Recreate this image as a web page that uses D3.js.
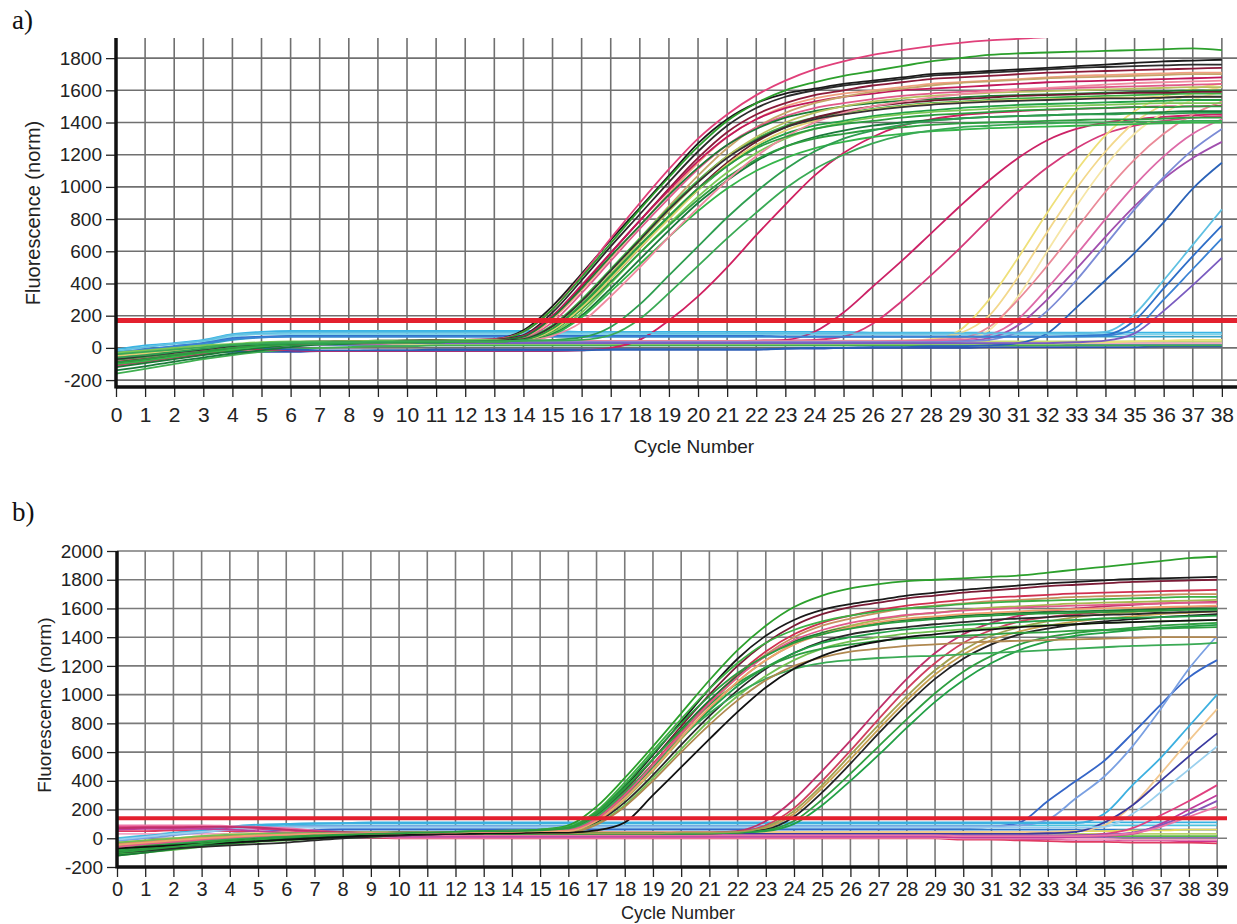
<!DOCTYPE html>
<html>
<head>
<meta charset="utf-8">
<script src="https://cdnjs.cloudflare.com/ajax/libs/d3/7.8.5/d3.min.js"></script>
<style>
  body { margin: 0; background: #fff; }
  svg { display: block; }
  text { font-family: "Liberation Sans", Arial, sans-serif; fill: #222; }
</style>
</head>
<body>
<svg id="chart" width="1237" height="924"></svg>
<script>
/* =========================
   Data: panel a
========================= */
const cyclesA = [0,1,2,3,4,5,6,7,8,9,10,11,12,13,14,15,16,17,18,19,20,21,22,23,24,25,26,27,28,29,30,31,32,33,34,35,36,37,38];
const yTicksA = [-200,0,200,400,600,800,1000,1200,1400,1600,1800];
const thresholdA = 170;

// early cluster (Ct ~14-17)
const aMainColors = ["#1b1b1b","#e0407a","#2ca02c","#2b2b2b","#8b1a3a","#f0a080","#c2185b","#c8a46a",
  "#e05a8a","#1a7a35","#3cb043","#b8c060","#6d1a30","#22a046","#7cc856","#197a3a",
  "#2e9e40","#35b54a","#e0d070","#f08aa0","#333333","#2a9d3f","#2e9e50","#3aaa55"];
const aMainValues = [
  [-60,-40,-20,0,20,30,35,40,40,45,45,50,50,55, 110,260,460,670,870,1070,1270,1420,1520,1580,1610,1640,1660,1680,1700,1710,1720,1730,1740,1750,1760,1770,1780,1785,1790],
  [-110,-90,-60,-30,0,20,30,35,40,40,45,45,50,55, 100,240,450,680,900,1110,1300,1450,1570,1660,1730,1780,1820,1850,1875,1895,1910,1920,1930,1935,1940,1945,1950,1950,1955],
  [-80,-60,-40,-20,0,20,30,35,40,40,45,45,50,50, 100,240,440,650,860,1060,1250,1410,1520,1600,1650,1690,1720,1750,1780,1800,1820,1830,1835,1840,1845,1850,1855,1860,1850],
  [-70,-50,-30,-10,10,25,30,35,40,40,45,45,50,50, 80,220,420,630,830,1030,1220,1380,1490,1560,1600,1630,1650,1670,1690,1700,1710,1720,1730,1740,1745,1750,1755,1760,1760],
  [-90,-70,-45,-20,5,20,30,35,35,40,40,45,45,50, 70,190,380,590,790,990,1180,1340,1450,1520,1570,1600,1630,1650,1670,1680,1690,1700,1710,1715,1720,1725,1730,1735,1740],
  [-50,-35,-20,0,15,25,30,30,35,35,40,40,45,45, 65,180,360,560,760,960,1150,1310,1420,1500,1550,1580,1600,1620,1640,1650,1660,1670,1680,1690,1695,1700,1705,1710,1710],
  [-100,-80,-55,-30,-5,15,25,30,35,35,40,40,45,45, 75,200,390,590,790,980,1160,1310,1420,1490,1530,1560,1580,1600,1610,1620,1630,1640,1650,1655,1660,1665,1670,1675,1680],
  [-60,-45,-25,-5,10,20,25,30,30,35,35,40,40,45, 55,130,290,480,680,880,1070,1240,1370,1460,1520,1560,1590,1610,1630,1645,1655,1665,1675,1680,1685,1690,1695,1700,1700],
  [-80,-60,-40,-20,0,15,25,30,30,35,35,40,40,45, 60,160,340,540,740,930,1110,1260,1370,1440,1490,1520,1545,1565,1580,1590,1600,1605,1610,1615,1620,1625,1630,1635,1640],
  [-120,-95,-70,-45,-20,0,15,25,30,35,35,40,40,45, 70,190,370,570,760,950,1120,1260,1360,1430,1470,1500,1520,1535,1545,1555,1565,1570,1575,1580,1585,1590,1595,1600,1600],
  [-70,-50,-30,-10,10,20,25,30,30,35,35,40,40,40, 55,140,300,490,680,870,1040,1190,1300,1380,1430,1460,1485,1505,1520,1530,1540,1550,1555,1560,1565,1570,1575,1580,1580],
  [-40,-25,-10,5,20,30,35,35,40,40,40,45,45,45, 55,120,270,460,660,850,1030,1190,1310,1400,1460,1500,1530,1550,1565,1575,1585,1590,1595,1600,1605,1610,1615,1620,1620],
  [-90,-70,-50,-25,0,15,25,30,35,35,40,40,45,45, 50,110,250,430,620,810,990,1150,1280,1370,1430,1470,1500,1520,1535,1545,1555,1565,1570,1575,1580,1585,1585,1590,1590],
  [-60,-45,-25,-5,15,25,30,30,35,35,40,40,40,45, 50,115,260,440,630,810,980,1130,1250,1330,1380,1410,1440,1460,1475,1490,1500,1510,1515,1520,1525,1530,1535,1540,1540],
  [-30,-15,0,15,25,35,40,40,40,45,45,45,50,50, 50,95,220,400,590,770,940,1090,1210,1300,1360,1400,1430,1450,1465,1475,1485,1495,1500,1505,1510,1515,1520,1520,1520],
  [-140,-115,-85,-60,-35,-15,5,20,25,30,35,35,40,40, 45,85,200,370,550,730,900,1040,1160,1250,1310,1350,1380,1400,1415,1425,1435,1440,1445,1450,1455,1460,1465,1470,1470],
  [-75,-55,-35,-15,5,20,25,30,30,35,35,40,40,40, 50,105,240,410,590,760,920,1060,1170,1250,1300,1330,1355,1370,1385,1395,1400,1405,1410,1415,1420,1420,1425,1430,1430],
  [-100,-80,-55,-30,-10,10,20,25,30,30,35,35,40,40, 45,80,190,350,520,690,850,990,1100,1180,1240,1280,1310,1330,1345,1355,1365,1370,1375,1380,1385,1390,1395,1400,1400],
  [-50,-35,-20,0,15,25,30,30,35,35,40,40,40,45, 50,110,250,430,620,800,980,1140,1260,1350,1410,1450,1480,1500,1515,1525,1535,1540,1545,1550,1555,1555,1560,1560,1560],
  [-60,-45,-30,-10,10,20,25,30,30,35,35,40,40,40, 45,75,160,320,500,690,870,1040,1190,1310,1400,1460,1500,1530,1555,1575,1590,1605,1615,1625,1635,1645,1650,1655,1660],
  [-70,-50,-30,-10,10,20,25,30,35,35,40,40,40,45, 55,135,290,480,670,860,1030,1180,1290,1370,1420,1450,1475,1495,1510,1520,1530,1535,1540,1545,1550,1550,1555,1560,1560],
  [-90,-70,-45,-25,0,15,25,30,30,35,35,35,40,40, 50,120,270,450,640,820,990,1130,1240,1310,1360,1390,1410,1430,1445,1455,1465,1475,1480,1485,1490,1495,1495,1500,1500],
  [-60,-45,-25,-5,15,25,30,30,35,35,40,40,40,40, 45,50,65,130,270,450,630,810,970,1110,1220,1300,1350,1385,1410,1425,1435,1440,1445,1450,1450,1455,1455,1460,1460],
  [-40,-25,-10,5,20,30,35,35,35,40,40,40,40,40, 45,45,50,80,180,340,510,680,840,990,1110,1200,1270,1320,1350,1370,1380,1390,1395,1400,1400,1405,1405,1410,1410]
];

// later curves (Ct ~19-35)
const aLateColors = ["#d02060","#cc2266","#d63a7a","#efe07a","#f3d88c","#f6e6a6","#ea8a98","#dd6aa8",
  "#a04fae","#7b8bd6","#2a62b8","#5fc0e2","#2e6ec8","#3a82d4","#7a5cc0"];
const aLateValues = [
  [-110,-90,-65,-40,-15,-10,-15,-20,-20,-20,-20,-20,-20,-20, -20,-20,-15,0,50,170,320,500,700,890,1070,1210,1310,1380,1420,1445,1460,1470,1480,1485,1490,1495,1500,1500,1505],
  [-90,-70,-50,-25,0,15,25,30,30,35,35,35,40,40, 40,40,40,40,40,40,40,40,45,50,100,220,380,540,710,880,1040,1180,1290,1360,1400,1420,1435,1445,1450],
  [-60,-45,-25,-5,15,25,30,30,35,35,35,40,40,40, 40,40,40,40,40,40,40,40,40,45,50,70,150,290,450,620,800,970,1120,1240,1330,1380,1410,1430,1440],
  [-50,-35,-20,0,15,25,30,30,35,35,35,40,40,40, 40,40,40,40,40,40,40,40,40,40,40,40,40,45,50,110,300,560,840,1100,1320,1470,1560,1610,1640],
  [-40,-25,-10,5,20,30,35,35,35,40,40,40,40,40, 40,40,40,40,40,40,40,40,40,40,40,45,45,45,55,90,200,440,720,990,1220,1400,1510,1580,1620],
  [-70,-50,-30,-10,10,20,25,30,30,30,35,35,35,35, 35,35,35,35,35,35,35,35,35,35,35,40,40,40,40,50,110,320,600,880,1130,1330,1460,1540,1590],
  [-80,-60,-40,-20,0,15,25,30,30,35,35,35,40,40, 40,40,40,40,40,40,40,40,40,40,40,40,40,45,50,60,130,300,510,740,970,1170,1330,1450,1530],
  [-60,-45,-25,-5,15,25,30,30,35,35,35,40,40,40, 40,40,40,40,40,40,40,40,40,40,40,40,40,40,45,50,80,180,370,580,800,1010,1190,1330,1420],
  [-100,-80,-55,-30,-5,10,20,25,25,25,30,30,30,30, 30,30,30,30,30,30,30,30,30,30,30,30,30,30,35,40,60,140,300,490,690,880,1050,1180,1280],
  [-50,-35,-20,0,15,25,30,30,30,30,35,35,35,35, 35,35,35,35,35,35,35,35,35,35,35,35,35,35,35,40,50,100,230,420,640,860,1060,1230,1360],
  [-40,-30,-15,0,10,0,-10,-15,-15,-15,-15,-15,-15,-15, -15,-15,-15,-10,-10,-10,-10,-10,-10,-5,0,0,5,5,10,10,15,30,90,250,420,590,780,990,1150],
  [-20,5,25,45,80,90,95,95,95,95,95,95,95,95, 95,95,95,95,95,90,90,90,90,90,90,90,90,90,90,90,90,90,90,90,100,210,420,640,860],
  [-30,-10,10,30,60,70,75,75,75,75,75,75,75,75, 75,75,75,75,75,75,75,75,75,70,70,70,70,70,70,70,70,70,70,75,80,170,370,570,760],
  [-30,-10,10,30,55,65,70,70,70,70,70,70,70,70, 70,70,70,70,70,70,70,70,70,70,70,70,70,70,70,70,70,70,70,70,75,120,300,490,680],
  [-60,-45,-25,-5,15,25,30,30,30,30,30,30,30,30, 30,30,30,30,30,30,30,30,30,30,30,30,30,30,30,30,30,30,30,35,45,90,230,390,560]
];

// curves that stay at baseline
const aFlatColors = ["#3ab4e4","#80d4ea","#35a0c8","#c8d870","#8fd070","#3050b0","#6a86c8","#f2a8c4","#e8e07a","#40b050"];
const aFlatValues = [
  [-10,15,30,50,85,100,105,105,105,105,105,105,105,105, 105,105,100,100,100,100,100,100,100,100,100,100,95,95,95,95,95,95,95,95,95,95,95,95,95],
  [-20,5,25,40,70,85,85,85,85,85,85,85,85,85, 85,85,85,85,85,85,85,85,85,85,85,85,85,85,85,85,85,85,85,85,85,85,85,85,85],
  [-40,-20,0,20,50,65,70,70,70,70,70,70,70,70, 70,70,70,70,70,70,70,70,70,70,70,70,70,70,70,70,70,70,70,70,70,70,70,70,70],
  [-50,-30,-15,0,15,25,30,35,35,35,35,35,35,35, 35,35,35,35,35,35,35,35,35,35,35,35,40,40,40,40,40,40,40,40,40,40,40,40,40],
  [-70,-50,-30,-10,5,15,20,20,25,25,25,25,25,25, 25,25,25,25,25,25,25,25,25,25,25,25,25,25,30,30,30,30,30,30,30,30,30,30,30],
  [-40,-35,-30,-25,-25,-25,-25,-20,-20,-15,-15,-10,-10,-10, -10,-10,-10,-10,-10,-10,-10,-10,-10,-5,-5,0,0,0,0,0,5,5,5,5,5,5,10,10,10],
  [-30,-20,-10,0,10,15,15,15,15,15,15,15,15,15, 15,15,15,15,15,15,15,15,15,15,15,15,15,15,15,15,15,15,15,20,20,20,20,20,20],
  [-90,-70,-50,-30,-10,5,15,20,25,25,30,30,30,30, 30,30,30,30,30,30,30,30,30,30,30,30,30,30,30,30,30,30,30,30,30,30,30,30,30],
  [-60,-40,-25,-10,5,15,20,25,25,25,25,25,25,25, 25,25,25,25,25,25,25,25,25,25,25,25,25,25,25,25,25,25,25,30,35,40,45,50,50],
  [-160,-130,-100,-70,-45,-25,-10,0,5,10,10,15,15,15, 15,15,15,15,15,15,15,15,15,15,15,15,15,15,15,15,15,15,15,15,15,15,15,15,15]
];

/* =========================
   Data: panel b
========================= */
const cyclesB = [0,1,2,3,4,5,6,7,8,9,10,11,12,13,14,15,16,17,18,19,20,21,22,23,24,25,26,27,28,29,30,31,32,33,34,35,36,37,38,39];
const yTicksB = [-200,0,200,400,600,800,1000,1200,1400,1600,1800,2000];
const thresholdB = 140;

const bMainColors = ["#2ca02c","#1a1a1a","#7a1a35","#d03050","#c89060","#3cb043","#a8b850","#1a7a35",
  "#2a2a2a","#22a046","#70c050","#2e9e40","#3aaa55","#b08850","#111111","#e05a8a","#f0a070","#2a9d3f"];
const bMainValues = [
  [-70,-50,-30,-10,5,15,25,30,35,40,40,45,45,50,50,60, 90,220,420,640,870,1100,1310,1480,1610,1690,1740,1770,1790,1800,1810,1820,1830,1850,1870,1890,1910,1930,1950,1960],
  [-90,-70,-50,-30,-15,0,10,20,30,35,40,40,45,45,50,55, 70,170,360,580,810,1040,1250,1410,1520,1590,1630,1660,1690,1710,1730,1745,1760,1775,1785,1795,1805,1810,1815,1820],
  [-60,-45,-30,-15,0,10,20,25,30,35,35,40,40,45,45,50, 60,150,330,550,780,1000,1200,1360,1480,1560,1610,1640,1670,1690,1710,1725,1740,1755,1765,1775,1785,1790,1795,1800],
  [-50,-35,-20,-5,10,20,25,30,35,35,40,40,45,45,50,50, 60,140,310,520,740,950,1140,1300,1420,1500,1550,1590,1620,1640,1660,1675,1685,1695,1705,1710,1715,1720,1725,1730],
  [-40,-25,-10,5,15,25,30,30,35,35,40,40,40,45,45,50, 55,130,290,500,720,930,1120,1280,1400,1480,1530,1570,1600,1620,1635,1650,1660,1670,1680,1685,1690,1695,1700,1700],
  [-110,-90,-70,-50,-30,-15,0,10,20,30,35,40,45,50,55,60, 80,190,390,610,830,1040,1220,1360,1450,1510,1550,1580,1600,1615,1630,1640,1650,1655,1660,1665,1670,1675,1680,1680],
  [-50,-35,-20,-5,10,20,25,30,30,35,35,40,40,40,45,45, 50,120,270,470,690,900,1090,1240,1350,1430,1480,1520,1550,1570,1590,1605,1615,1625,1635,1640,1645,1650,1655,1660],
  [-120,-100,-75,-55,-35,-20,-5,5,15,25,30,35,40,45,50,55, 65,160,340,550,760,960,1130,1270,1370,1430,1470,1500,1520,1535,1550,1560,1570,1575,1580,1585,1590,1595,1600,1600],
  [-100,-85,-70,-60,-50,-40,-30,-15,0,10,20,25,30,35,40,45, 50,110,250,440,650,850,1030,1180,1290,1370,1420,1450,1470,1490,1505,1520,1530,1540,1550,1555,1560,1570,1575,1580],
  [-80,-60,-40,-20,0,15,25,30,35,35,40,40,45,45,50,50, 55,130,290,490,700,890,1060,1190,1290,1360,1400,1430,1455,1470,1485,1495,1505,1515,1520,1530,1535,1540,1545,1550],
  [-30,-15,0,15,25,30,35,35,40,40,40,45,45,45,50,50, 45,100,230,420,620,820,990,1130,1240,1320,1370,1400,1425,1440,1455,1465,1475,1485,1490,1500,1505,1510,1515,1520],
  [-90,-70,-50,-30,-10,5,15,25,30,35,40,40,45,45,50,55, 70,170,350,550,750,930,1080,1190,1270,1320,1350,1375,1390,1400,1410,1420,1430,1435,1445,1450,1455,1460,1465,1470],
  [-60,-45,-30,-15,0,10,20,25,30,35,35,40,40,45,45,50, 60,150,320,510,700,870,1010,1110,1180,1220,1240,1255,1265,1270,1280,1290,1300,1310,1320,1330,1340,1345,1350,1360],
  [-40,-30,-15,0,10,20,25,30,30,35,35,35,40,40,40,40, 40,95,220,400,600,790,960,1100,1200,1260,1300,1320,1340,1350,1360,1370,1375,1380,1385,1390,1395,1400,1400,1400],
  [-70,-60,-50,-40,-30,-20,-10,0,10,20,25,30,30,35,35,40, 40,55,110,300,495,690,880,1050,1180,1270,1330,1370,1400,1420,1440,1455,1470,1480,1490,1500,1505,1510,1515,1520],
  [-60,-40,-25,-10,5,15,25,30,35,35,40,40,45,45,50,50, 55,135,300,510,730,940,1120,1270,1380,1450,1500,1530,1555,1570,1585,1595,1605,1615,1620,1625,1630,1635,1640,1640],
  [-45,-30,-15,0,10,20,25,30,30,35,35,40,40,45,45,50, 50,120,280,480,700,910,1090,1240,1350,1420,1470,1505,1530,1545,1560,1570,1580,1590,1595,1600,1605,1610,1615,1620],
  [-100,-80,-60,-40,-20,-5,10,20,25,30,35,40,45,50,50,55, 75,180,370,590,800,990,1150,1270,1360,1420,1460,1490,1510,1525,1540,1550,1560,1565,1570,1575,1580,1585,1590,1590]
];

// second cluster (Ct ~23-24.5)
const bMidColors = ["#c0306a","#d04060","#c8a050","#222222","#2e9e40","#22a046","#a0a050"];
const bMidValues = [
  [70,75,75,80,80,75,60,50,45,40,40,40,40,40,40,40,40,40,40,40,40,40, 50,120,270,470,680,900,1110,1290,1420,1500,1550,1580,1600,1615,1625,1635,1640,1645],
  [-60,-45,-30,-15,0,10,20,25,30,30,35,35,35,35,35,35,35,35,35,35,40,40, 45,90,210,400,610,830,1040,1220,1360,1450,1510,1540,1560,1575,1590,1600,1610,1615],
  [-40,-30,-15,0,10,20,25,30,30,30,35,35,35,35,35,35,35,35,35,35,35,35, 40,70,170,350,550,760,960,1140,1280,1380,1440,1480,1510,1530,1545,1560,1570,1580],
  [-80,-65,-50,-40,-30,-20,-10,0,10,15,20,25,30,30,30,35,35,35,35,35,35,35, 40,60,150,320,520,730,930,1110,1250,1350,1420,1460,1490,1510,1525,1540,1550,1560],
  [-100,-80,-60,-45,-30,-15,0,10,20,25,30,30,35,35,35,35,35,35,35,35,35,35, 40,55,120,270,450,640,830,1010,1160,1270,1350,1400,1430,1450,1465,1480,1490,1500],
  [-70,-55,-40,-25,-10,5,15,20,25,30,30,30,30,30,30,30,30,30,30,30,30,35, 40,50,100,230,400,580,770,950,1100,1220,1310,1370,1410,1430,1450,1465,1475,1485],
  [-50,-35,-20,-5,10,20,25,30,30,30,35,35,35,35,35,35,35,35,35,35,40,40, 45,80,190,370,580,790,990,1170,1310,1410,1470,1510,1540,1560,1575,1585,1595,1600]
];

// late curves (Ct ~32-38)
const bLateColors = ["#3566c8","#7aa0e2","#3cb0e0","#f2c890","#3a3aa0","#9ad0ee","#e04080","#c03c9c","#8a52b8","#ec74a6"];
const bLateValues = [
  [-50,-30,-10,10,30,45,55,60,65,65, 65,65,65,65,65,65,65,65,65,65,65,65,65,65,65,65,65,65,65,65, 70,80,110,260, 400,540,730,930,1120,1240],
  [-20,0,20,40,60,75,80,85,85,85, 85,85,85,85,85,85,85,85,85,85,85,85,85,85,85,85,85,85,85,85, 85,85,90,130, 280,430,640,900,1180,1410],
  [-10,15,35,55,80,95,100,105,105,105, 105,105,105,105,105,105,105,105,105,105,105,105,105,105,105,105,105,105,105,105, 105,105,105,105, 105,170,370,560,780,1000],
  [-30,-15,0,15,30,40,45,45,45,45, 45,45,45,45,45,45,45,45,45,45,45,45,45,45,45,45,45,45,45,45, 45,45,45,45, 50,90,230,450,680,900],
  [-60,-40,-20,0,15,25,30,30,30,30, 30,30,30,30,30,30,30,30,30,30,30,30,30,30,30,30,30,30,30,30, 30,30,30,35, 45,110,230,400,570,730],
  [-10,10,30,45,60,70,75,75,75,75, 75,75,75,75,75,75,75,75,75,75,75,75,75,75,75,75,75,75,75,75, 75,75,75,75, 75,80,170,320,480,640],
  [80,85,85,85,80,70,55,40,30,20, 15,15,15,15,15,15,15,15,15,15,15,15,15,15,15,15,15,15,15,15, 10,10,10,15, 20,30,70,160,260,370],
  [60,65,65,65,60,50,40,30,20,15, 10,10,10,10,10,10,10,10,10,10,10,10,10,10,10,10,10,10,10,10, 5,5,5,5, 10,15,30,100,200,300],
  [-40,-25,-10,5,15,20,20,20,20,20, 20,20,20,20,20,20,20,20,20,20,20,20,20,20,20,20,20,20,20,20, 20,20,20,20, 20,25,40,90,170,260],
  [90,90,90,90,85,80,70,55,40,30, 20,20,20,20,20,20,20,20,20,20,20,20,20,20,20,20,20,20,20,20, 15,15,15,15, 15,20,35,80,150,220]
];

const bFlatColors = ["#38b2e2","#4cc0dc","#2f78c6","#e6d85a","#b8d468","#7a5ab4","#d0308e","#e03a62","#f2a6c6","#58b848"];
const bFlatValues = [
  [-20,10,30,50,70,85,95,100,105,110, 110,110,110,110,110,110,110,110,110,110,110,110,110,110,110,110,110,110,110,110, 110,110,110,110, 110,110,110,110,110,110],
  [0,20,40,55,70,80,85,90,90,90, 90,90,90,90,90,90,90,90,90,90,90,90,90,90,90,90,90,90,90,90, 90,90,90,90, 90,90,90,90,90,90],
  [-60,-40,-20,0,20,35,45,55,60,60, 60,60,60,60,60,60,60,60,60,60,60,60,60,60,60,60,60,60,60,60, 60,60,60,60, 60,60,60,60,60,60],
  [-70,-50,-30,-10,5,15,25,30,35,40, 40,40,40,40,40,40,40,40,40,40,40,40,40,40,40,40,40,40,40,40, 40,45,45,45, 50,50,55,55,60,60],
  [-90,-70,-50,-30,-15,0,10,20,25,30, 30,30,30,30,30,30,30,30,30,30,30,30,30,30,30,30,30,30,30,30, 30,30,30,30, 30,30,30,30,30,30],
  [-30,-20,-10,0,10,15,15,15,15,15, 15,15,15,15,15,15,15,15,15,15,15,15,15,15,15,15,15,15,15,15, 10,10,10,10, 10,10,10,10,10,10],
  [70,70,70,70,70,65,55,40,30,20, 10,10,10,10,10,10,10,10,10,10,10,10,10,10,10,10,10,10,10,10, 0,0,-5,-5, -10,-10,-15,-15,-20,-20],
  [50,50,55,55,50,40,30,20,10,5, 0,0,0,0,0,0,0,0,0,0,0,0,0,0,0,0,0,0,0,0, -10,-10,-15,-20, -25,-25,-30,-30,-30,-35],
  [30,30,30,30,30,25,20,15,10,10, 5,5,5,5,5,5,5,5,5,5,5,5,5,5,5,5,5,5,5,5, 0,0,0,0, -5,-5,-10,-10,-10,-10],
  [-120,-100,-80,-60,-40,-25,-15,-5,5,10, 15,15,15,15,15,15,15,15,15,15,15,15,15,15,15,15,15,15,15,15, 15,15,15,15, 15,15,15,15,15,15]
];

/* =========================
   Drawing
========================= */
const svg = d3.select("#chart");
const plainNum = d => String(d);   // keep hyphen-minus like the scan

function drawPanel(p) {
  const x = d3.scaleLinear().domain(p.xDomain).range([p.left, p.right]);
  const y = d3.scaleLinear().domain(p.yDomain).range([p.bottom, p.top]);
  const g = svg.append("g");

  // panel letter
  g.append("text")
    .attr("x", 12).attr("y", p.letterY)
    .style("font-family", "'Liberation Serif', 'Times New Roman', serif")
    .style("font-size", "27px").style("fill", "#111")
    .text(p.letter);

  // grid
  const xMaxInt = Math.floor(p.xDomain[1]);
  g.append("g").selectAll("line")
    .data(d3.range(1, xMaxInt + 1))
    .join("line")
    .attr("x1", d => x(d)).attr("x2", d => x(d))
    .attr("y1", p.top).attr("y2", p.bottom)
    .attr("stroke", p.gridColor).attr("stroke-width", 1.6);

  g.append("g").selectAll("line")
    .data(p.yTicks)
    .join("line")
    .attr("x1", p.left).attr("x2", p.right)
    .attr("y1", d => y(d)).attr("y2", d => y(d))
    .attr("stroke", p.gridColor).attr("stroke-width", 1.6);

  // curves
  const clipId = "clip-" + p.letter.replace(")", "");
  svg.append("defs").append("clipPath").attr("id", clipId)
    .append("rect")
    .attr("x", p.left).attr("y", p.top)
    .attr("width", p.right - p.left).attr("height", p.bottom - p.top);

  const line = d3.line()
    .x(d => x(d[0]))
    .y(d => y(d[1]))
    .curve(d3.curveMonotoneX);

  const curves = g.append("g").attr("clip-path", `url(#${clipId})`);
  p.groups.forEach(grp => {
    curves.append("g").selectAll("path")
      .data(grp.values.map((vals, i) => ({ color: grp.colors[i], pts: vals.map((v, j) => [p.cycles[j], v]) })))
      .join("path")
      .attr("fill", "none")
      .attr("stroke", d => d.color)
      .attr("stroke-width", 1.8)
      .attr("stroke-linejoin", "round")
      .attr("d", d => line(d.pts));
  });

  // threshold
  curves.append("line")
    .attr("x1", p.left).attr("x2", p.right)
    .attr("y1", y(p.threshold)).attr("y2", y(p.threshold))
    .attr("stroke", "#e3202e").attr("stroke-width", p.thresholdWidth);

  // axes
  const xAxis = g.append("g").attr("transform", `translate(0,${p.bottom})`);
  xAxis.call(d3.axisBottom(x).tickValues(d3.range(0, p.xDomain[1], 0.2)).tickSize(5).tickFormat(""));
  xAxis.call(d3.axisBottom(x).tickValues(p.cycles).tickSize(10).tickPadding(p.xPad).tickFormat(plainNum));
  xAxis.selectAll(".domain").remove();
  xAxis.selectAll("line").attr("stroke", "#222").attr("stroke-width", 1.3);
  xAxis.selectAll("text").style("font-size", p.xFont + "px").style("fill", "#222");

  const yAxis = g.append("g").attr("transform", `translate(${p.left},0)`);
  yAxis.call(d3.axisLeft(y).tickValues(d3.range(p.yTicks[0], p.yDomain[1], 40)).tickSize(5).tickFormat(""));
  yAxis.call(d3.axisLeft(y).tickValues(p.yTicks).tickSize(10).tickPadding(4).tickFormat(plainNum));
  yAxis.selectAll(".domain").remove();
  yAxis.selectAll("line").attr("stroke", "#222").attr("stroke-width", 1.3);
  yAxis.selectAll("text").style("font-size", p.yFont + "px").style("fill", "#222");

  // thick axis lines
  g.append("line")
    .attr("x1", p.left).attr("x2", p.left)
    .attr("y1", p.top).attr("y2", p.bottom + 1.5)
    .attr("stroke", "#111").attr("stroke-width", 3.5);
  g.append("line")
    .attr("x1", p.left).attr("x2", p.right)
    .attr("y1", p.bottom).attr("y2", p.bottom)
    .attr("stroke", "#111").attr("stroke-width", 3.5);

  // axis titles
  g.append("text")
    .attr("x", p.xTitleX).attr("y", p.xTitleY)
    .attr("text-anchor", "middle")
    .style("font-size", p.titleFont + "px")
    .text("Cycle Number");

  g.append("text")
    .attr("transform", `translate(${p.yTitleX},${p.yTitleY}) rotate(-90)`)
    .attr("text-anchor", "middle")
    .attr("dominant-baseline", "central")
    .style("font-size", p.titleFont + 1 + "px")
    .text("Fluorescence (norm)");
}

drawPanel({
  letter: "a)", letterY: 29,
  left: 116, right: 1237, top: 38, bottom: 387,
  xDomain: [0, 38.52], yDomain: [-243, 1925],
  cycles: cyclesA, yTicks: yTicksA,
  threshold: thresholdA, thresholdWidth: 5,
  gridColor: "#707070",
  xPad: 10, xFont: 21, yFont: 19, titleFont: 19,
  xTitleX: 694, xTitleY: 453, yTitleX: 33, yTitleY: 213,
  groups: [
    { colors: aFlatColors, values: aFlatValues },
    { colors: aLateColors, values: aLateValues },
    { colors: aMainColors, values: aMainValues }
  ]
});

drawPanel({
  letter: "b)", letterY: 521,
  left: 117, right: 1227, top: 551, bottom: 867,
  xDomain: [0, 39.35], yDomain: [-200, 2000],
  cycles: cyclesB, yTicks: yTicksB,
  threshold: thresholdB, thresholdWidth: 4,
  gridColor: "#7a7a7a",
  xPad: 5, xFont: 20, yFont: 19, titleFont: 18,
  xTitleX: 678, xTitleY: 919, yTitleX: 44, yTitleY: 705,
  groups: [
    { colors: bFlatColors, values: bFlatValues },
    { colors: bLateColors, values: bLateValues },
    { colors: bMidColors, values: bMidValues },
    { colors: bMainColors, values: bMainValues }
  ]
});
</script>
</body>
</html>
